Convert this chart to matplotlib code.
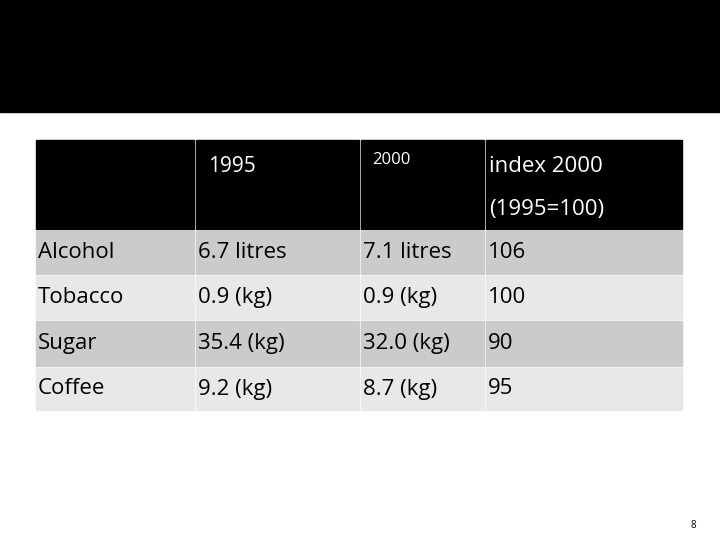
import matplotlib
matplotlib.use("Agg")
import matplotlib.pyplot as plt
from matplotlib.patches import Rectangle

plt.rcParams["font.family"] = ["Open Sans", "DejaVu Sans"]

categories = ["Alcohol", "Tobacco", "Sugar", "Coffee"]
values_1995 = ["6.7 litres", "0.9 (kg)", "35.4 (kg)", "9.2 (kg)"]
values_2000 = ["7.1 litres", "0.9 (kg)", "32.0 (kg)", "8.7 (kg)"]
index_2000 = ["106", "100", "90", "95"]

fig = plt.figure(figsize=(7.2, 5.4), dpi=100)
ax = fig.add_axes([0, 0, 1, 1])
ax.set_xlim(0, 720)
ax.set_ylim(540, 0)
ax.axis("off")

# black title band
ax.add_patch(Rectangle((0, 0), 720, 112, color="black"))

col_edges = [35, 195, 360, 485, 683]
row_edges = [230, 275, 320, 367, 411]
gap = 2

# header row
for i in range(4):
    ax.add_patch(Rectangle((col_edges[i] + gap / 2, 140), col_edges[i + 1] - col_edges[i] - gap,
                           230 - 140 - gap / 2, color="black"))
ax.text(208, 167, "1995", color="white", fontsize=15, va="center")
ax.text(372, 160, "2000", color="white", fontsize=12, va="center")
ax.text(489, 167, "index 2000", color="white", fontsize=16, va="center")
ax.text(489, 210, "(1995=100)", color="white", fontsize=16, va="center")

for r, cols in enumerate(zip(categories, values_1995, values_2000, index_2000)):
    y0, y1 = row_edges[r], row_edges[r + 1]
    shade = "#cbcbcb" if r % 2 == 0 else "#e8e8e8"
    for i, txt in enumerate(cols):
        ax.add_patch(Rectangle((col_edges[i] + gap / 2, y0 + gap / 2),
                               col_edges[i + 1] - col_edges[i] - gap, y1 - y0 - gap, color=shade))
        ax.text(col_edges[i] + 3, (y0 + y1) / 2, txt, fontsize=16, va="center", color="black")

ax.text(693, 525, "8", fontsize=7, ha="center", va="center")

fig.savefig("out.png", dpi=100)
